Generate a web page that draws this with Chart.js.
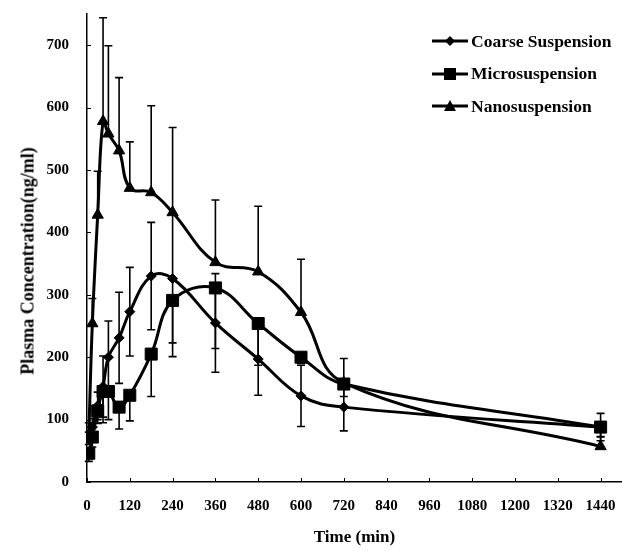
<!DOCTYPE html>
<html>
<head>
<meta charset="utf-8">
<script src="https://cdn.jsdelivr.net/npm/chart.js@4.4.1/dist/chart.umd.min.js"></script>
<style>
  html, body { margin: 0; padding: 0; background: #fff; }
  #wrap { position: relative; width: 622px; height: 551px; }
  #legend { position: absolute; left: 430px; top: 25px; font: bold 17.5px "Liberation Serif", serif; color: #000; }
  #legend .row { height: 32.6px; display: flex; align-items: center; white-space: nowrap; }
  #legend svg { width: 40px; height: 16px; margin-right: 1px; }
  #ytitle { position: absolute; left: 28px; top: 261px; transform: translate(-50%, -50%) rotate(-90deg);
            font: bold 18px "Liberation Serif", serif; color: #000; white-space: nowrap; }
</style>
</head>
<body>
<div id="wrap">
  <canvas id="chart" width="622" height="551"></canvas>
  <div id="legend"></div>
  <div id="ytitle">Plasma Concentration(ng/ml)</div>
</div>
<script>
// sampling times (min)
const times = [5, 15, 30, 45, 60, 90, 120, 180, 240, 360, 480, 600, 720, 1440];

// plasma concentration (ng/ml)
const coarse = [70, 88, 122, 153, 200, 231, 273, 330, 326, 255, 197, 138, 120, 88];
const micro  = [46, 72, 114, 145, 145, 120, 139, 205, 291, 311, 254, 200, 157, 88];
const nano   = [75, 254, 428, 578, 558, 531, 471, 464, 432, 352, 337, 272, 159, 57];

// error bars (SD) - coarse drawn both ways, micro only down, nano only up
const coarseSD = [10, 14, 22, 49, 58, 73, 71, 86, 103, 79, 58, 49, 38, 22];
const microSD  = [13, 16, 20, 50, 45, 35, 41, 68, 90, 97, 67, 10, 20, 15];
const nanoSD   = [20, 40, 70, 166, 141, 117, 74, 139, 136, 100, 105, 85, 39, 15];

const seriesNames = ['Coarse Suspension', 'Microsuspension', 'Nanosuspension'];
const xTicks = [0, 120, 240, 360, 480, 600, 720, 840, 960, 1080, 1200, 1320, 1440];
const yTicks = [0, 100, 200, 300, 400, 500, 600, 700];

const FONT = '"Liberation Serif", "Times New Roman", serif';
const zeros = times.map(() => 0);

function pts(vals) {
  return times.map((t, i) => ({ x: t, y: vals[i] }));
}

// draws SD whiskers through the chart scales
const errorBars = {
  id: 'errorBars',
  beforeDatasetsDraw(chart) {
    const ctx = chart.ctx;
    const xs = chart.scales.x, ys = chart.scales.y;
    ctx.save();
    ctx.strokeStyle = '#000';
    ctx.lineWidth = 1.6;
    chart.data.datasets.forEach(ds => {
      ds.data.forEach((p, i) => {
        const px = xs.getPixelForValue(p.x);
        const top = ys.getPixelForValue(p.y + ds.errUp[i]);
        const bot = ys.getPixelForValue(p.y - ds.errDown[i]);
        ctx.beginPath();
        ctx.moveTo(px, top);
        ctx.lineTo(px, bot);
        if (ds.errUp[i] > 0) { ctx.moveTo(px - 4, top); ctx.lineTo(px + 4, top); }
        if (ds.errDown[i] > 0) { ctx.moveTo(px - 4, bot); ctx.lineTo(px + 4, bot); }
        ctx.stroke();
      });
    });
    ctx.restore();
  }
};

// small inward tick marks on both axes
const innerTicks = {
  id: 'innerTicks',
  afterDraw(chart) {
    const ctx = chart.ctx, a = chart.chartArea;
    const xs = chart.scales.x, ys = chart.scales.y;
    ctx.save();
    ctx.strokeStyle = '#000';
    ctx.lineWidth = 1;
    ctx.beginPath();
    xs.ticks.forEach(t => {
      const px = Math.round(xs.getPixelForValue(t.value)) + 0.5;
      ctx.moveTo(px, a.bottom);
      ctx.lineTo(px, a.bottom - 4);
    });
    ys.ticks.forEach(t => {
      const py = Math.round(ys.getPixelForValue(t.value)) + 0.5;
      ctx.moveTo(a.left, py);
      ctx.lineTo(a.left + 4, py);
    });
    ctx.stroke();
    ctx.restore();
  }
};

function makeSet(label, vals, style, radius, up, down) {
  return {
    label: label,
    data: pts(vals),
    borderColor: '#000',
    backgroundColor: '#000',
    borderWidth: 3,
    tension: 0.4,
    pointStyle: style,
    pointRadius: radius,
    pointBackgroundColor: '#000',
    pointBorderColor: '#000',
    pointBorderWidth: 1,
    errUp: up,
    errDown: down
  };
}

new Chart(document.getElementById('chart'), {
  type: 'line',
  data: {
    datasets: [
      makeSet(seriesNames[0], coarse, 'rectRot', 5, coarseSD, coarseSD),
      makeSet(seriesNames[1], micro, 'rect', 8.5, zeros, microSD),
      makeSet(seriesNames[2], nano, 'triangle', 6.5, nanoSD, zeros)
    ]
  },
  options: {
    responsive: false,
    animation: false,
    layout: { autoPadding: false, padding: { top: 14, left: 0, right: 0, bottom: 3 } },
    plugins: { legend: { display: false }, tooltip: { enabled: false } },
    scales: {
      x: {
        type: 'linear',
        min: 0,
        max: 1500,
        afterFit: s => { s.height = 66; s.paddingLeft = 0; s.paddingRight = 0; },
        afterBuildTicks: s => { s.ticks = xTicks.map(v => ({ value: v })); },
        grid: { display: false },
        border: { display: true, color: '#000', width: 1.5 },
        ticks: { autoSkip: false, maxRotation: 0, padding: 7, color: '#000', callback: v => String(v), font: { family: FONT, size: 15, weight: 'bold' } },
        title: { display: true, text: 'Time (min)', padding: 0, color: '#000', font: { family: FONT, size: 17, weight: 'bold' } }
      },
      y: {
        min: 0,
        max: 750,
        afterFit: s => { s.width = 87; s.paddingTop = 0; s.paddingBottom = 0; },
        afterBuildTicks: s => { s.ticks = yTicks.map(v => ({ value: v })); },
        grid: { display: false },
        border: { display: true, color: '#000', width: 1.5 },
        ticks: { padding: 10, color: '#000', callback: v => String(v), font: { family: FONT, size: 15, weight: 'bold' } },
        title: { display: false }
      }
    }
  },
  plugins: [errorBars, innerTicks]
});

// legend: line + marker symbol, then the series name
const marks = [
  '<polygon points="20,3 25,8 20,13 15,8"/>',
  '<rect x="14" y="2" width="12" height="12"/>',
  '<polygon points="20,2 26,13 14,13"/>'
];
document.getElementById('legend').innerHTML = seriesNames.map((n, i) =>
  '<div class="row"><svg viewBox="0 0 40 16"><line x1="2" y1="8" x2="38" y2="8" stroke="#000" stroke-width="3"/>' +
  marks[i] + '</svg><span>' + n + '</span></div>'
).join('');
</script>
</body>
</html>
